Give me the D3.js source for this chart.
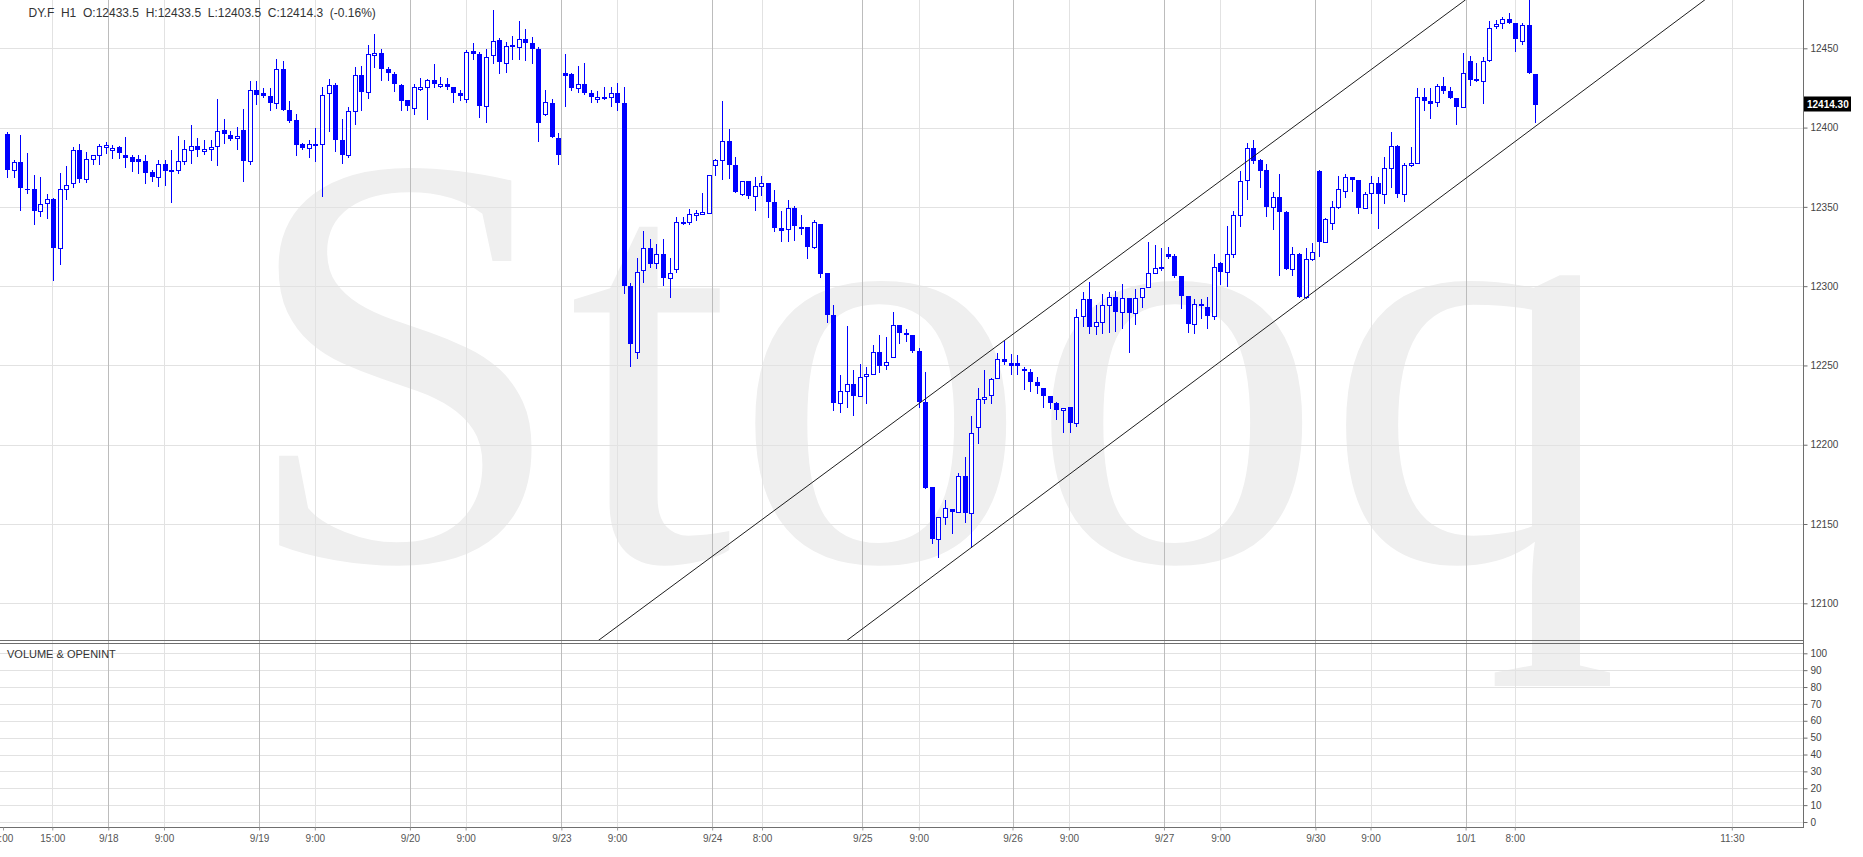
<!DOCTYPE html>
<html>
<head>
<meta charset="utf-8">
<script src="https://cdn.jsdelivr.net/npm/d3@7/dist/d3.min.js"></script>
<style>
  body { margin: 0; background: #fff; }
  svg { display: block; font-family: "Liberation Sans", Arial, sans-serif; }
</style>
</head>
<body>
<div id="chart"></div>
<script>
// DY.F hourly bars (bar index = position on the time axis)
var opens = [
  12396, 12373.5, 12378, 12361.5, 12361, 12347.3, 12352.4, 12355, 12324.3, 12361.3,
  12364.9, 12386, 12367.6, 12380.3, 12382.4, 12388, 12385.6, 12388, 12382.8, 12381.3,
  12379.9, 12379.2, 12371.8, 12368.7, 12377.1, 12373.3, 12373.3, 12379, 12386, 12388.5,
  12385, 12386.4, 12388.1, 12398.2, 12395.5, 12393.4, 12398.2, 12379.2, 12423.6, 12421.5,
  12420.2, 12415.8, 12436.7, 12410.9, 12404.6, 12389.4, 12387.1, 12389.8, 12389.8, 12421.5,
  12426.6, 12391.9, 12383, 12410.3, 12433.1, 12422.5, 12445.8, 12447.3, 12436.7, 12433.7,
  12426.8, 12417.3, 12412.6, 12425, 12425.3, 12429.7, 12426.3, 12427.8, 12425.3, 12422,
  12418.3, 12448, 12446.4, 12413.9, 12445.8, 12455.3, 12441, 12452, 12450.6, 12455.7,
  12453.6, 12449.4, 12408.8, 12415.8, 12393.6, 12434.6, 12433.7, 12424.7, 12427.2, 12421.5,
  12418.1, 12419.6, 12419.6, 12422.1, 12415.8, 12300, 12258.2, 12310, 12324.3, 12314.4,
  12320.1, 12305.3, 12310.6, 12340.6, 12340.2, 12345, 12346.3, 12345.9, 12376.1, 12379.7,
  12391.5, 12376.1, 12358.1, 12366.6, 12357.1, 12363.2, 12365.1, 12353.3, 12336.6, 12336.3,
  12349.2, 12337, 12337, 12325, 12339.1, 12308.1, 12281.8, 12226.1, 12233.9, 12238.1,
  12231, 12244, 12244.9, 12258.3, 12250, 12255.1, 12275.3, 12270.5, 12269, 12259.1,
  12227.1, 12173.1, 12140.3, 12154.2, 12159.2, 12157.3, 12180.3, 12156.7, 12211, 12228.8,
  12231.3, 12241.9, 12254.3, 12251.3, 12251.3, 12248, 12245.7, 12239.3, 12235.6, 12230.7,
  12226.1, 12221.7, 12223.6, 12213.5, 12281.2, 12291.9, 12274.9, 12277.6, 12287.9, 12293.4,
  12283.5, 12292.3, 12282.8, 12293, 12299.7, 12308.6, 12311.8, 12320.1, 12319, 12306.4,
  12293.6, 12275.9, 12288.7, 12286.9, 12281.2, 12314.4, 12309.2, 12320.3, 12344.7, 12366.7,
  12386.9, 12379.3, 12373, 12349.7, 12356, 12346.8, 12310.6, 12320.1, 12293.4, 12316.9,
  12372.6, 12328.1, 12339.6, 12349.7, 12360.2, 12368.6, 12366.7, 12349.1, 12358.5, 12364.8,
  12357.9, 12374.3, 12388.4, 12357.9, 12376.4, 12377.9, 12419.1, 12416.8, 12416.1, 12426,
  12423.1, 12418.5, 12413.2, 12441.8, 12430.4, 12429.2, 12442.4, 12464, 12465.7, 12468.3,
  12465.7, 12454.6, 12464.7, 12433.5
];
var highs = [
  12397, 12379.6, 12395.5, 12384, 12370.4, 12369, 12358, 12355.5, 12371.6, 12376,
  12387.7, 12389.4, 12384.5, 12383, 12389.4, 12391, 12389, 12388.7, 12393.8, 12382.4,
  12382.4, 12382.4, 12373.3, 12379.7, 12379.7, 12385.6, 12394.4, 12392.3, 12401.4, 12393.4,
  12391.9, 12392.3, 12418, 12405.2, 12397.6, 12400.4, 12412, 12429.5, 12429.3, 12424.7,
  12424.7, 12443, 12441.8, 12416.6, 12408.7, 12390.5, 12392, 12400, 12425.3, 12430.4,
  12428.2, 12405.2, 12413, 12438.4, 12438.8, 12452.1, 12459, 12449.4, 12438.4, 12435.2,
  12427.8, 12417.7, 12427.8, 12431, 12430.6, 12440, 12431.6, 12431, 12425.3, 12424,
  12449, 12453.6, 12447.9, 12449.4, 12474.3, 12456.8, 12454, 12457.8, 12467.3, 12462,
  12457.4, 12451, 12423.6, 12418, 12396.8, 12446.4, 12434.6, 12438.8, 12440.9, 12423.6,
  12423.2, 12425.3, 12425.3, 12428.2, 12425.3, 12302.1, 12317.6, 12334.5, 12329.6, 12326.4,
  12329.6, 12318, 12343.3, 12343.3, 12348.6, 12348, 12358.8, 12370.4, 12380.5, 12416.8,
  12399.3, 12381.4, 12366.6, 12366.6, 12369.1, 12369.7, 12365.1, 12360.6, 12347.6, 12354.2,
  12350.3, 12345, 12337, 12341.7, 12339.5, 12308.5, 12288.1, 12243.8, 12274.9, 12247.1,
  12250.9, 12248.8, 12262.9, 12269.2, 12267.7, 12283.5, 12275.3, 12273, 12269, 12260.8,
  12246.1, 12173.1, 12154.2, 12165.1, 12159.2, 12182, 12192.1, 12218.1, 12235.6, 12247.1,
  12241.9, 12258.1, 12265.6, 12257.2, 12256.8, 12248.8, 12247.5, 12242.9, 12235.6, 12230.7,
  12227.1, 12223.4, 12223.6, 12285.6, 12296.5, 12302.6, 12287.9, 12295.1, 12296.5, 12297,
  12301.4, 12292.3, 12298.4, 12299.1, 12328, 12325.9, 12323.8, 12324.9, 12320.3, 12306.4,
  12293.6, 12291.9, 12291.9, 12293, 12320.3, 12315.4, 12337.9, 12347.6, 12372.4, 12390.1,
  12392.2, 12380, 12376.8, 12359.2, 12370.7, 12347.4, 12324.9, 12320.7, 12323.9, 12327,
  12373.3, 12343.2, 12353.7, 12369.5, 12370.9, 12369.1, 12366.7, 12359.4, 12369.5, 12369.1,
  12381.4, 12397.2, 12389, 12377.5, 12387.8, 12425, 12425, 12424.8, 12427.5, 12431.7,
  12425.8, 12418.5, 12446.8, 12445.4, 12440.5, 12444.3, 12467.4, 12467.9, 12470, 12472.1,
  12465.7, 12465.7, 12484, 12433.5
];
var lows = [
  12369, 12369, 12347.8, 12359, 12339, 12344, 12343, 12304, 12314, 12355,
  12362.3, 12365.5, 12365.5, 12377, 12377, 12384, 12381, 12381, 12375, 12372.9,
  12371.6, 12364.9, 12366.6, 12363.4, 12363.8, 12352.8, 12371.2, 12377.1, 12377.5, 12381.8,
  12383.5, 12379.7, 12376.5, 12390.2, 12392.3, 12386.6, 12366.3, 12377.1, 12415.1, 12419,
  12410.9, 12412.6, 12410.9, 12403.5, 12382.8, 12386.2, 12381.4, 12379.2, 12356.6, 12397.8,
  12385.1, 12377.5, 12381.6, 12402, 12410.9, 12418.9, 12438.4, 12430, 12430, 12423.2,
  12410.9, 12410.9, 12408.8, 12424, 12405.6, 12425.3, 12425.3, 12424.2, 12416.2, 12417.3,
  12416.2, 12443, 12406.7, 12403.5, 12440.5, 12434.2, 12435.2, 12443, 12443, 12442.6,
  12440.9, 12391.5, 12407.7, 12394, 12377.1, 12413.7, 12423.6, 12422.5, 12421.1, 12416.2,
  12416.2, 12417.9, 12413.5, 12411.3, 12295.8, 12249.7, 12255, 12302.6, 12312.3, 12311.6,
  12301, 12293.3, 12309.1, 12339, 12339.5, 12341.7, 12345.5, 12345.9, 12370.4, 12367.6,
  12368.2, 12359.2, 12357.7, 12355.6, 12348, 12357.7, 12343.3, 12334.5, 12328.5, 12328.5,
  12329.3, 12332.8, 12318, 12324.3, 12305.7, 12277.6, 12221.9, 12220.9, 12224, 12218.7,
  12230.7, 12226.5, 12244.6, 12246.1, 12248, 12255.1, 12264.4, 12265.6, 12258.7, 12224,
  12172.5, 12138.2, 12129, 12150, 12144.5, 12157.3, 12151.5, 12135.7, 12201.3, 12226.5,
  12226.5, 12241.9, 12250.9, 12244.9, 12244.9, 12234.9, 12234.1, 12232.4, 12224, 12223.4,
  12216, 12208, 12208.2, 12211.8, 12274.9, 12270.3, 12269.6, 12270.3, 12270.9, 12271.9,
  12273.4, 12258.7, 12276.1, 12286.6, 12299.7, 12308.1, 12310.2, 12317.5, 12306, 12286.2,
  12271.3, 12270.3, 12279.7, 12273.8, 12279.1, 12301.1, 12300.3, 12318.6, 12338.1, 12355.2,
  12377.9, 12362.7, 12344.2, 12335.8, 12307.1, 12310.6, 12307.1, 12293.4, 12292.3, 12316.5,
  12319, 12328.1, 12335.8, 12349.1, 12356.4, 12360.2, 12345.9, 12349.1, 12346.3, 12336.5,
  12352.2, 12362.7, 12356, 12353.9, 12375.8, 12377.5, 12411.1, 12405.8, 12413.6, 12421.6,
  12418.5, 12402.1, 12413.2, 12426.9, 12429.2, 12415.3, 12441.8, 12462.6, 12462.6, 12465.7,
  12448.5, 12452.7, 12434.2, 12403.5
];
var closes = [
  12373, 12378, 12362, 12361, 12347.3, 12351.8, 12355, 12324.3, 12361.3, 12363.8,
  12386, 12367.6, 12380.3, 12382.4, 12388.5, 12389, 12387.3, 12383.9, 12380.7, 12378.6,
  12378.2, 12371.6, 12368.7, 12377.1, 12372.9, 12371.8, 12379, 12386.6, 12388.5, 12386,
  12386.6, 12387.7, 12398, 12396.1, 12393, 12395, 12378.8, 12423.6, 12420.4, 12420,
  12415.8, 12436.7, 12411.3, 12404.2, 12389.2, 12387, 12389.8, 12388.3, 12420.8, 12426.6,
  12392.3, 12383, 12410.3, 12432.9, 12422.5, 12446.4, 12447.3, 12436.7, 12434.2, 12427.4,
  12416.8, 12413.5, 12425.7, 12425.3, 12429.7, 12427.2, 12427.8, 12425.3, 12421.9, 12420,
  12447.9, 12446.2, 12413.9, 12444.3, 12454.9, 12441.5, 12451.7, 12450.6, 12455.7, 12453.6,
  12449.4, 12402.9, 12416.2, 12394, 12382.8, 12432.7, 12424.7, 12427.2, 12421.5, 12419.4,
  12419.6, 12418.1, 12422.1, 12415.8, 12300, 12263.7, 12309.1, 12324.3, 12314.2, 12320.1,
  12305.3, 12308.5, 12340.6, 12339.1, 12345.5, 12346.3, 12346.5, 12370.4, 12379.7, 12391.5,
  12376.5, 12359.2, 12366.1, 12357.1, 12363.4, 12365.1, 12352.8, 12336.4, 12334.9, 12349.2,
  12338, 12336, 12325, 12340.2, 12307.8, 12281.8, 12226.1, 12233.9, 12238.1, 12231,
  12242.5, 12244.9, 12258.3, 12249.8, 12251.9, 12275.3, 12270.7, 12269, 12259.3, 12227.1,
  12172.5, 12140.3, 12154.2, 12159.9, 12157.3, 12180.3, 12156.7, 12207.2, 12228.6, 12230.3,
  12241.7, 12254.3, 12251.9, 12249.6, 12249.6, 12246.5, 12239.3, 12237, 12230.7, 12226.1,
  12221.7, 12223.4, 12213.5, 12280.8, 12291.9, 12274.4, 12277.2, 12287.9, 12293.4, 12283.5,
  12292.3, 12282.8, 12292.3, 12299.1, 12308.5, 12311.6, 12310.6, 12318.2, 12306.6, 12294,
  12275.9, 12288.5, 12287.3, 12281.2, 12312.3, 12309.2, 12320.1, 12344.7, 12366.1, 12386.9,
  12378.9, 12372.8, 12349.7, 12356, 12347, 12310.6, 12320.1, 12293.4, 12316.9, 12321.3,
  12327.6, 12342.4, 12349.7, 12361, 12368.6, 12366.7, 12349.1, 12358.1, 12364.8, 12357.9,
  12374.3, 12388.4, 12357.9, 12376.4, 12377.5, 12419.1, 12417, 12415.1, 12426, 12423.3,
  12418.9, 12413.2, 12434.2, 12429.8, 12429.2, 12441.8, 12462.6, 12465.3, 12468.3, 12465.7,
  12455.6, 12464.7, 12434.2, 12414.3
];

// time axis labels and where they sit (in bar index units)
var timeLabels = ["9:00", "15:00", "9/18", "9:00", "9/19", "9:00", "9/20", "9:00", "9/23", "9:00",
  "9/24", "8:00", "9/25", "9:00", "9/26", "9:00", "9/27", "9:00", "9/30", "9:00", "10/1", "8:00", "11:30"];
var timeAt = [-0.65, 6.86, 15.4, 23.9, 38.4, 46.9, 61.4, 69.9, 84.5, 93,
  107.5, 115.1, 130.4, 139, 153.3, 161.9, 176.4, 185, 199.5, 207.9, 222.4, 229.9, 263];

var priceTicks = [12100, 12150, 12200, 12250, 12300, 12350, 12400, 12450];
var volumeTicks = [0, 10, 20, 30, 40, 50, 60, 70, 80, 90, 100];

// channel lines drawn on the chart: [bar index, price] end points
var upperChannel = [[89.5, 12074.6], [222.4, 12480.6]];
var lowerChannel = [[127.4, 12074.6], [258.9, 12480.6]];

var svgWidth = 1863;
var svgHeight = 857;
var axisX = 1803.5;      // right price axis
var priceBottom = 640.5; // double line under the price panel
var volTop = 643.5;
var volBottom = 827.5;   // time axis line

var BLUE = "#0000ff";

var svg = d3.select("#chart")
  .append("svg")
  .attr("width", svgWidth)
  .attr("height", svgHeight);

var x = d3.scaleLinear().domain([0, 233]).range([7.3, 1535.1]);
var y = d3.scaleLinear().domain([12100, 12450]).range([603.3, 48.3]);
var v = d3.scaleLinear().domain([0, 100]).range([822, 653.3]);

svg.append("defs").append("clipPath").attr("id", "priceClip")
  .append("rect").attr("x", 0).attr("y", 0).attr("width", axisX).attr("height", priceBottom);

// watermark
svg.append("text")
  .attr("x", 239)
  .attr("y", 560)
  .attr("font-family", "'Liberation Serif', 'Times New Roman', serif")
  .attr("font-size", 592)
  .attr("fill", "#efefef")
  .text("Stooq");

// horizontal grid, price panel
svg.append("g").selectAll("line")
  .data(priceTicks)
  .enter().append("line")
  .attr("x1", 0).attr("x2", axisX)
  .attr("y1", d => Math.round(y(d)) + 0.5)
  .attr("y2", d => Math.round(y(d)) + 0.5)
  .attr("stroke", "#e2e2e2");

// horizontal grid, volume panel
svg.append("g").selectAll("line")
  .data(volumeTicks)
  .enter().append("line")
  .attr("x1", 0).attr("x2", axisX)
  .attr("y1", d => Math.round(v(d)) + 0.5)
  .attr("y2", d => Math.round(v(d)) + 0.5)
  .attr("stroke", "#e2e2e2");

// vertical grid (days darker than hours)
var timeTicks = timeAt.map((t, i) => ({ t: t, label: timeLabels[i] }));
svg.append("g").selectAll("line")
  .data(timeTicks.filter(d => d.t >= 0))
  .enter().append("line")
  .attr("x1", d => Math.round(x(d.t)) + 0.5)
  .attr("x2", d => Math.round(x(d.t)) + 0.5)
  .attr("y1", 0).attr("y2", volBottom)
  .attr("stroke", d => d.label.indexOf("/") > 0 ? "#bcbcbc" : "#e2e2e2");

// candles
var candles = opens.map((o, i) => ({ i: i, o: o, h: highs[i], l: lows[i], c: closes[i] }));
var candleGroup = svg.append("g")
  .attr("clip-path", "url(#priceClip)")
  .attr("shape-rendering", "crispEdges");

candleGroup.selectAll("line")
  .data(candles)
  .enter().append("line")
  .attr("x1", d => Math.round(x(d.i)) + 0.5)
  .attr("x2", d => Math.round(x(d.i)) + 0.5)
  .attr("y1", d => Math.round(y(d.h)))
  .attr("y2", d => Math.round(y(d.l)) + 1)
  .attr("stroke", BLUE);

candleGroup.selectAll("rect")
  .data(candles)
  .enter().append("rect")
  .each(function(d) {
    var left = Math.round(x(d.i)) - 2;
    var top = Math.round(y(Math.max(d.o, d.c)));
    var bottom = Math.round(y(Math.min(d.o, d.c)));
    var r = d3.select(this);
    if (d.c >= d.o) {
      // rising bar: hollow
      r.attr("x", left + 0.5).attr("y", top + 0.5)
        .attr("width", 4).attr("height", Math.max(bottom - top, 2))
        .attr("fill", "#fff").attr("stroke", BLUE).attr("stroke-width", 1);
    } else {
      r.attr("x", left).attr("y", top)
        .attr("width", 5).attr("height", Math.max(bottom - top, 1))
        .attr("fill", BLUE);
    }
  });

// channel lines
var channelLine = d3.line().x(d => x(d[0])).y(d => y(d[1]));
svg.append("g").attr("clip-path", "url(#priceClip)")
  .selectAll("path")
  .data([upperChannel, lowerChannel])
  .enter().append("path")
  .attr("d", channelLine)
  .attr("fill", "none")
  .attr("stroke", "#1e1e1e")
  .attr("stroke-width", 1);

// panel frame lines
var frame = svg.append("g").attr("stroke", "#6e6e6e").attr("shape-rendering", "crispEdges");
frame.append("line").attr("x1", 0).attr("x2", axisX).attr("y1", priceBottom).attr("y2", priceBottom);
frame.append("line").attr("x1", 0).attr("x2", axisX).attr("y1", volTop).attr("y2", volTop);
frame.append("line").attr("x1", 0).attr("x2", axisX + 0.5).attr("y1", volBottom).attr("y2", volBottom);
frame.append("line").attr("x1", axisX).attr("x2", axisX).attr("y1", 0).attr("y2", volBottom);

// right axes
var priceAxis = d3.axisRight(y).tickValues(priceTicks).tickSize(4).tickPadding(3).tickFormat(d3.format("d"));
var pa = svg.append("g")
  .attr("transform", `translate(${axisX}, 0)`)
  .call(priceAxis);

var volAxis = d3.axisRight(v).tickValues(volumeTicks).tickSize(4).tickPadding(3);
var va = svg.append("g")
  .attr("transform", `translate(${axisX}, 0)`)
  .call(volAxis);

[pa, va].forEach(function(g) {
  g.select(".domain").remove();
  g.selectAll(".tick line").attr("stroke", "#6e6e6e");
  g.selectAll(".tick text")
    .attr("fill", "#444")
    .style("font-size", "10px")
    .style("font-family", "'Liberation Sans', Arial, sans-serif");
});

// time axis
var timeAxis = d3.axisBottom(x)
  .tickValues(timeAt)
  .tickFormat((d, i) => timeLabels[i])
  .tickSize(3)
  .tickPadding(4);
var ta = svg.append("g")
  .attr("transform", `translate(0, ${volBottom})`)
  .call(timeAxis);
ta.select(".domain").remove();
ta.selectAll(".tick line").attr("stroke", "#9a9a9a");
ta.selectAll(".tick text")
  .attr("fill", "#555")
  .style("font-size", "10px")
  .style("font-family", "'Liberation Sans', Arial, sans-serif");

// last price marker
var last = closes[closes.length - 1];
var ly = y(last);
svg.append("rect")
  .attr("x", axisX + 0.5).attr("y", Math.round(ly) - 8.5)
  .attr("width", 47).attr("height", 15)
  .attr("fill", "#000");
svg.append("text")
  .attr("x", axisX + 3.5).attr("y", Math.round(ly) + 3)
  .attr("fill", "#fff")
  .style("font-size", "10px")
  .style("font-weight", "bold")
  .text(last.toFixed(2));

// header line
var prev = closes[closes.length - 2];
var chg = (last / prev - 1) * 100;
var n = opens.length - 1;
svg.append("text")
  .attr("x", 28.5).attr("y", 16.5)
  .attr("fill", "#333")
  .style("font-size", "12px")
  .style("white-space", "pre")
  .attr("xml:space", "preserve")
  .text(`DY.F  H1  O:${opens[n]}  H:${highs[n]}  L:${lows[n]}  C:${closes[n]}  (${chg.toFixed(2)}%)`);

svg.append("text")
  .attr("x", 7).attr("y", 658)
  .attr("fill", "#333")
  .style("font-size", "11px")
  .text("VOLUME & OPENINT");
</script>
</body>
</html>
